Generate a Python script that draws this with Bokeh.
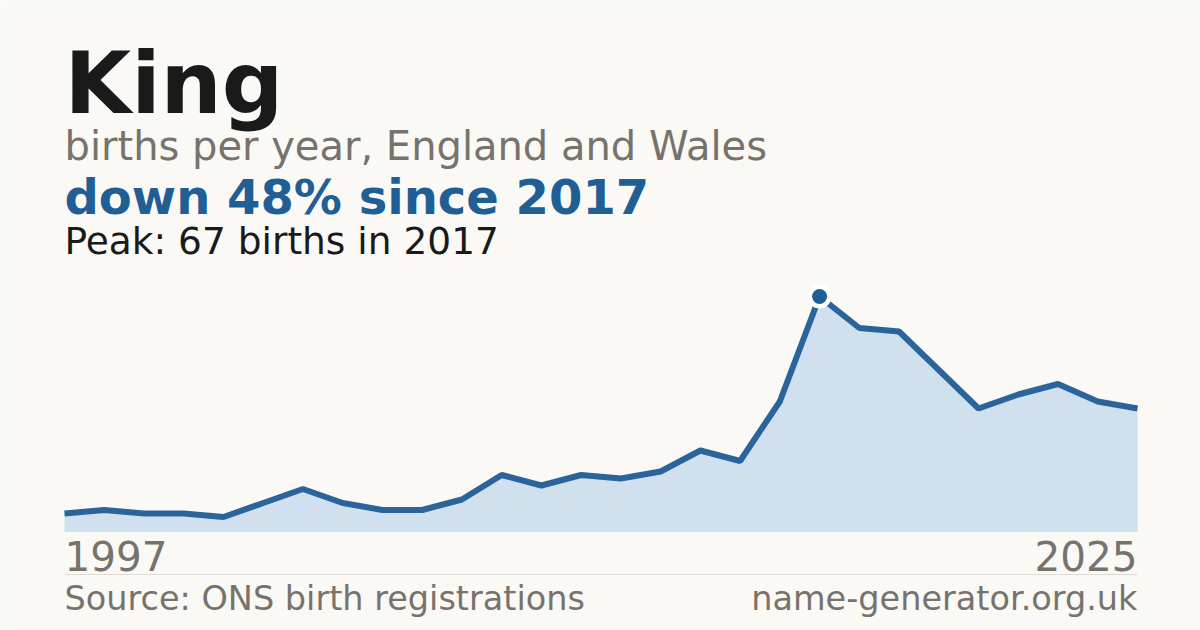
from bokeh.plotting import figure
from bokeh.models import Range1d, Label, BoxAnnotation, ColumnDataSource
from bokeh.embed import file_html
from bokeh.resources import INLINE

# ---------------- data ----------------
name = "King"
subtitle = "births per year, England and Wales"
years = list(range(1998, 2026))
births = [5, 6, 5, 5, 4, 8, 12, 8, 6, 6, 9, 16, 13, 16, 15, 17, 23, 20,
          37, 67, 58, 57, 46, 35, 39, 42, 37, 35]
first_label = "1997"
last_label = "2025"
source_text = "Source: ONS birth registrations"
site_text = "name-generator.org.uk"

# derived
peak = max(births)
peak_i = births.index(peak)
peak_year = years[peak_i]
change = round((births[-1] - peak) / peak * 100)
headline = f"down {abs(change)}% since {peak_year}"
peak_text = f"Peak: {peak} births in {peak_year}"
xs = list(range(len(births)))

# ---------------- layout ----------------
W, H = 1200, 630
PLOT_L, PLOT_R = 64, 1137
BASE_Y, PEAK_Y = 530.5, 296.0   # from top

n = len(births)
px_x = (PLOT_R - PLOT_L) / (n - 1)
px_y = (BASE_Y - PEAK_Y) / peak
x_range = Range1d(-PLOT_L / px_x, (n - 1) + (W - PLOT_R) / px_x)
y_range = Range1d(-(H - BASE_Y) / px_y, BASE_Y / px_y)

BG = "#faf9f5"
BLUE = "#1f5f96"
LINE = "#2a649b"
FILL = "#d0e0ef"
GRAY = "#77736c"
DARK = "#1a1a1a"
RULE = "#dedbd4"
FONT = "DejaVu Sans"
BASE_SHIFT = 0.37  # label baseline correction, in em

p = figure(width=W, height=H, x_range=x_range, y_range=y_range,
           x_axis_location=None, y_axis_location=None,
           toolbar_location=None, output_backend="svg", min_border=0,
           background_fill_color=BG, border_fill_color=BG)
p.grid.visible = False
p.outline_line_color = None

src = ColumnDataSource(dict(x=xs, y=births, year=years))

p.varea(x="x", y1=0, y2="y", source=src, fill_color=FILL)
p.line(x="x", y="y", source=src, line_color=LINE, line_width=6)


def rule(y_top_px):
    yb = H - y_top_px
    p.add_layout(BoxAnnotation(left=PLOT_L, right=PLOT_R, bottom=yb - 0.5, top=yb + 0.5,
                               left_units="screen", right_units="screen",
                               bottom_units="screen", top_units="screen",
                               fill_color=RULE, fill_alpha=1, line_color=None))


rule(BASE_Y + 0.5)
rule(574)

# peak marker
p.scatter([xs[peak_i]], [peak], size=24, color="white", line_color=None)
p.scatter([xs[peak_i]], [peak], size=15, color=BLUE, line_color=None)


def lab(text, x, baseline_px, size, color, bold=False, align="left"):
    p.add_layout(Label(x=x, y=H - baseline_px + BASE_SHIFT * size,
                       x_units="screen", y_units="screen", text=text,
                       text_font=FONT, text_font_size=f"{size}px",
                       text_font_style="bold" if bold else "normal",
                       text_color=color, text_align=align,
                       text_baseline="alphabetic"))


lab(name, PLOT_L, 114, 86, DARK, bold=True)
lab(subtitle, PLOT_L, 160, 40, GRAY)
lab(headline, PLOT_L, 214, 48, BLUE, bold=True)
lab(peak_text, PLOT_L, 254, 37.5, DARK)
lab(first_label, PLOT_L, 570, 40.5, GRAY)
lab(last_label, PLOT_R, 570, 40.5, GRAY, align="right")
lab(source_text, PLOT_L, 610.5, 33.5, GRAY)
lab(site_text, PLOT_R, 610.5, 33.5, GRAY, align="right")

open("out.html", "w").write(file_html(p, INLINE))
